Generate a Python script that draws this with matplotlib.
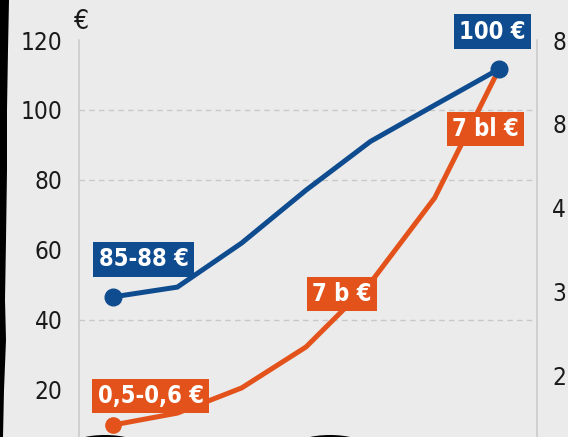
import matplotlib.pyplot as plt
from matplotlib import font_manager as fm
from matplotlib.patches import Polygon, Ellipse

# values (left scale, euro)
steps = [0, 1, 2, 3, 4, 5, 6]
blue_vals = [46.6, 49.4, 62.0, 77.1, 91.0, 101.4, 111.7]
orange_vals = [10.0, 13.4, 20.6, 32.3, 50.6, 74.9, 111.7]
left_ticks = [20, 40, 60, 80, 100, 120]
grid_levels = [40, 80, 100]
right_ticks = [20, 30, 40, 50, 60]
right_labels = ['2', '3', '4', '8', '8']

blue = '#0f4c8f'
orange = '#e3521b'
bg = '#ebebeb'

# a narrow sans for the axis numbers, if one is around
def pick(bold):
    for f in fm.fontManager.ttflist:
        low = f.fname.lower()
        if ('narrow' in low or 'condensed' in low) and 'sans' in f.name.lower() \
                and 'oblique' not in low and 'italic' not in low \
                and (('bold' in low) == bold):
            return f.fname
    return None

reg_file = pick(False)
bold_file = pick(True)

def tick_font(size):
    if reg_file:
        return fm.FontProperties(fname=reg_file, size=size)
    return fm.FontProperties(family='Roboto', size=size)

def tag_font(size):
    if bold_file:
        return fm.FontProperties(fname=bold_file, size=size)
    return fm.FontProperties(family='Roboto', weight='bold', size=size)

fig = plt.figure(figsize=(5.68, 4.37), dpi=100, facecolor=bg)
ax = fig.add_axes([79/568, 0, 458/568, 397/437], facecolor=bg)
ax.set_xlim(-0.529, 6.59)
ax.set_ylim(6.57, 120)

for s in ['top', 'bottom']:
    ax.spines[s].set_visible(False)
for s in ['left', 'right']:
    ax.spines[s].set_color('#c8c8c8')
    ax.spines[s].set_linewidth(1.1)
ax.set_xticks([])
ax.set_yticks(left_ticks)
ax.tick_params(axis='y', length=0, pad=12, labelcolor='#1a1a1a')
for lab in ax.get_yticklabels():
    lab.set_fontproperties(tick_font(17.5))

for g in grid_levels:
    ax.axhline(g, color='#c8c8c8', lw=1, ls=(0, (4, 3)), zorder=1)

ax.plot(steps, orange_vals, color=orange, lw=3.6, marker='o', ms=11,
        markevery=[0], solid_joinstyle='miter', zorder=3)
ax.plot(steps, blue_vals, color=blue, lw=3.6, marker='o', ms=12,
        markevery=[0, 6], solid_joinstyle='miter', zorder=4)

ax2 = ax.twinx()
ax2.set_ylim(12.66, 60)
ax2.set_yticks(right_ticks, right_labels)
ax2.tick_params(axis='y', length=0, pad=11, labelcolor='#1a1a1a')
for s in ['top', 'bottom', 'left', 'right']:
    ax2.spines[s].set_visible(False)
for lab in ax2.get_yticklabels():
    lab.set_fontproperties(tick_font(17.5))

fig.text(82/568, 1 - 22/437, '€', ha='center', va='center',
         color='#1a1a1a', fontproperties=tick_font(19))

def tag(txt, x, y, dx, dy, col):
    ax.annotate(txt, (x, y), xytext=(dx, dy), textcoords='offset points',
                ha='center', va='center', color='white',
                fontproperties=tag_font(17),
                bbox=dict(boxstyle='square,pad=0.22', fc=col, ec='none'),
                zorder=6, annotation_clip=False)

tag('100 €', steps[6], blue_vals[6], -5, 27, blue)
tag('7 bl €', steps[6], orange_vals[6], -10, -43, orange)
tag('85-88 €', steps[0], blue_vals[0], 22, 27, blue)
tag('7 b €', steps[3], orange_vals[3], 25.6, 38, orange)
tag('0,5-0,6 €', steps[0], orange_vals[0], 27, 21, orange)

# dark photo edge on the left and shapes peeking in at the bottom
edge = [(0, 0), (9, 0), (8, 50), (7, 110), (7, 170), (6, 240), (5, 300),
        (6, 340), (4, 390), (3, 437), (0, 437)]
fig.patches.append(Polygon([(x/568, 1 - y/437) for x, y in edge], closed=True,
                           fc='black', ec='none', transform=fig.transFigure))
for cx, w in [(105, 70), (330, 70)]:
    fig.patches.append(Ellipse((cx/568, 1 - 446/437), w/568, 22/437,
                               fc='black', ec='none', transform=fig.transFigure))

fig.savefig('out.png', dpi=100, facecolor=bg)
